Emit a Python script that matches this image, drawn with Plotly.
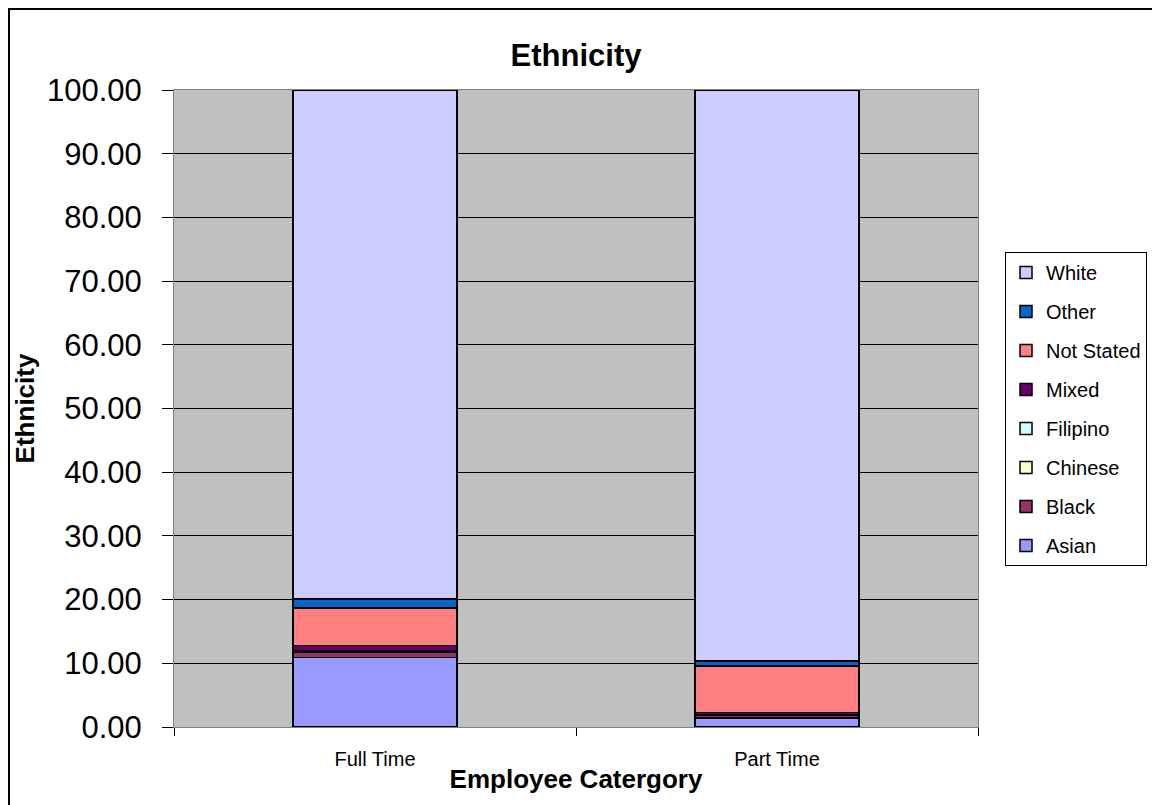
import plotly.graph_objects as go

categories = ["Full Time", "Part Time"]
series_names = ["Asian", "Black", "Chinese", "Filipino", "Mixed", "Not Stated", "Other", "White"]
asian = [10.9, 1.4]
black = [0.8, 0.4]
chinese = [0.1, 0.1]
filipino = [0.1, 0.1]
mixed = [0.9, 0.3]
not_stated = [5.9, 7.3]
other = [1.4, 0.8]
white = [79.9, 89.6]
colors = ["#9999FF", "#993366", "#FFFFCC", "#CCFFFF", "#660066", "#FF8080", "#0066CC", "#CCCCFF"]
y_tick_values = [0, 10, 20, 30, 40, 50, 60, 70, 80, 90, 100]

values = [asian, black, chinese, filipino, mixed, not_stated, other, white]

fig = go.Figure()
n = len(series_names)
for i, (name, vals, col) in enumerate(zip(series_names, values, colors)):
    fig.add_trace(go.Bar(
        x=categories, y=vals, name=name, legendgroup=name, legendrank=n - i,
        marker=dict(color=col, line=dict(color="black", width=1.5)),
    ))

W, H = 1152, 797
L, R, T, B = 166, 182, 82, 78
pw, ph = W - L - R, H - T - B

fig.update_layout(
    barmode="stack",
    bargap=0.592,
    width=W, height=H,
    margin=dict(l=L, r=R, t=T, b=B, autoexpand=False),
    paper_bgcolor="white",
    plot_bgcolor="#C0C0C0",
    font=dict(family="Arial, Liberation Sans", color="black"),
    title=dict(text="<b>Ethnicity</b>", x=0.5, xanchor="center", xref="paper",
               y=1 - 47 / H, yanchor="middle", yref="container", font=dict(size=31)),
    showlegend=True,
    legend=dict(
        x=(997 - L) / pw, y=(H - B - 244) / ph, xanchor="left", yanchor="top",
        traceorder="grouped", tracegroupgap=10,
        bordercolor="black", borderwidth=1, bgcolor="white",
        font=dict(size=20),
    ),
    xaxis=dict(
        tickson="boundaries", ticks="outside", ticklen=8, tickcolor="black",
        tickfont=dict(size=20), ticklabelstandoff=14,
        showline=True, linecolor="#808080", linewidth=1, mirror=True,
        title=dict(text="<b>Employee Catergory</b>", font=dict(size=26), standoff=0),
        showgrid=False,
    ),
    yaxis=dict(
        range=[0, 100], tickvals=y_tick_values, tickformat=".2f", ticks="outside", ticklen=11,
        tickcolor="black", tickfont=dict(size=31), ticklabelstandoff=14,
        showgrid=True, gridcolor="black", gridwidth=1,
        showline=True, linecolor="#808080", linewidth=1, zeroline=False, mirror=True,
        title=dict(text="<b>Ethnicity</b>", font=dict(size=26), standoff=4),
    ),
)

fig.add_shape(type="rect", xref="paper", yref="paper",
              x0=(1 - L) / pw, x1=(1150 - L) / pw,
              y0=(H - B - 805) / ph, y1=(H - B - 1) / ph,
              line=dict(color="black", width=2), fillcolor="rgba(0,0,0,0)", layer="below")

fig.write_html("out.html")
